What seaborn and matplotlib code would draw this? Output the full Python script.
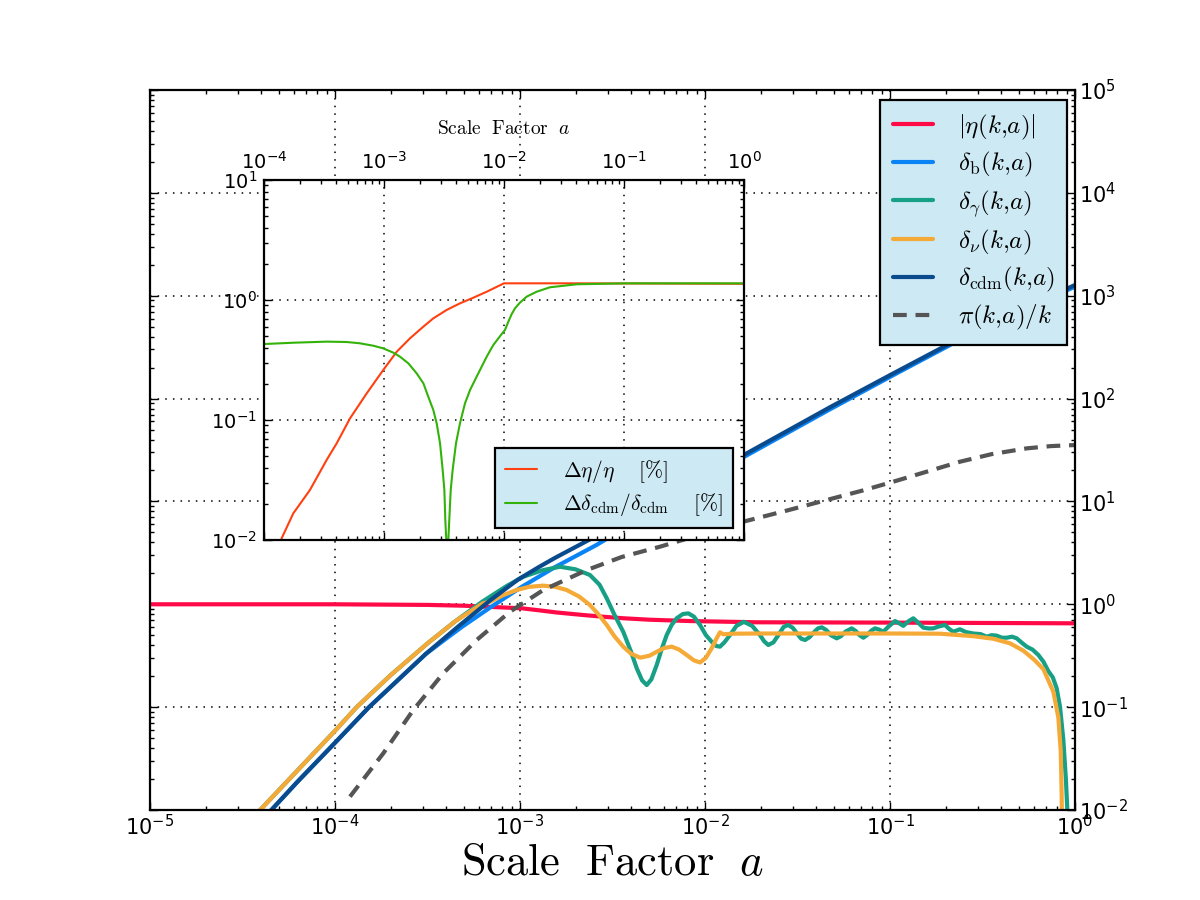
import numpy as np
import matplotlib
matplotlib.use("Agg")
import matplotlib.pyplot as plt
import seaborn as sns

# ---------------- data (log10 of scale factor a, log10 of value) ----------------
eta_loga = [-5.0, -4.0, -3.5, -3.3, -3.19, -2.99, -2.90, -2.80, -2.66, -2.55, -2.44, -2.30, -2.08, -1.72, -1.02, 0.0]
eta_logv = [0.0, 0.0, -0.006, -0.014, -0.023, -0.039, -0.058, -0.080, -0.104, -0.121, -0.136, -0.150, -0.163, -0.175, -0.178, -0.185]

cdm_loga = [-4.40, -4.344, -4.2, -4.005, -3.816, -3.65, -3.508, -3.33, -3.16, -3.011, -2.9, -2.812, -2.623,
            -2.315, -2.05, -1.792, -1.32, -0.982, -0.524, 0.0]
cdm_logv = [-2.12, -2.0, -1.72, -1.356, -1.0, -0.72, -0.48, -0.21, 0.04, 0.24, 0.36, 0.45, 0.63,
            0.93, 1.19, 1.45, 1.92, 2.245, 2.68, 3.104]

b_loga = [-4.40, -4.344, -4.2, -4.005, -3.816, -3.65, -3.508, -3.4, -3.31, -3.16, -2.99, -2.812, -2.587, -2.315,
          -2.05, -1.792, -1.32, -0.982, -0.524, 0.0]
b_logv = [-2.12, -2.0, -1.72, -1.356, -1.0, -0.72, -0.482, -0.335, -0.215, -0.03, 0.17, 0.36, 0.576, 0.87,
          1.16, 1.43, 1.90, 2.228, 2.665, 3.088]

gam_loga = [-4.46, -4.405, -4.2, -4.0, -3.883, -3.7, -3.5, -3.35, -3.2, -3.162, -3.07, -2.982, -2.88, -2.784,
            -2.70, -2.622, -2.57, -2.531, -2.49, -2.442, -2.40, -2.369, -2.34, -2.315, -2.29, -2.261,
            -2.235, -2.207, -2.18, -2.153, -2.12, -2.090, -2.06, -2.027, -1.995, -1.964, -1.94, -1.919,
            -1.895, -1.865, -1.83, -1.79, -1.745, -1.703, -1.68, -1.658, -1.63, -1.60, -1.575, -1.550,
            -1.525, -1.50, -1.48, -1.459, -1.435, -1.41, -1.39, -1.369, -1.345, -1.32, -1.288, -1.265,
            -1.24, -1.207, -1.185, -1.165, -1.144, -1.125, -1.10, -1.081, -1.06, -1.036, -1.01, -0.973,
            -0.95, -0.928, -0.90, -0.874, -0.85, -0.820, -0.79, -0.766, -0.735, -0.703, -0.68, -0.658,
            -0.622, -0.59, -0.550, -0.51, -0.477, -0.45, -0.423, -0.395, -0.369, -0.34, -0.315, -0.29,
            -0.261, -0.23, -0.198, -0.17, -0.144, -0.12, -0.099, -0.081, -0.063, -0.049, -0.042, -0.038]
gam_logv = [-2.11, -2.0, -1.61, -1.23, -1.0, -0.69, -0.38, -0.165, 0.03, 0.074, 0.18, 0.268, 0.33, 0.365,
            0.34, 0.285, 0.19, 0.058, -0.10, -0.267, -0.46, -0.622, -0.74, -0.785, -0.73, -0.590,
            -0.44, -0.299, -0.20, -0.136, -0.095, -0.088, -0.12, -0.201, -0.30, -0.364, -0.405, -0.412,
            -0.37, -0.299, -0.21, -0.17, -0.21, -0.299, -0.36, -0.396, -0.37, -0.29, -0.22, -0.201,
            -0.23, -0.29, -0.335, -0.347, -0.32, -0.27, -0.235, -0.224, -0.25, -0.30, -0.331, -0.31,
            -0.265, -0.234, -0.26, -0.30, -0.325, -0.30, -0.255, -0.234, -0.245, -0.267, -0.22, -0.163,
            -0.185, -0.21, -0.165, -0.136, -0.175, -0.227, -0.235, -0.234, -0.215, -0.201, -0.24, -0.267,
            -0.243, -0.27, -0.284, -0.29, -0.315, -0.30, -0.305, -0.325, -0.325, -0.315, -0.331, -0.37,
            -0.412, -0.44, -0.493, -0.56, -0.65, -0.71, -0.817, -0.996, -1.319, -1.708, -1.98, -2.4]

nu_loga = [-4.46, -4.405, -4.2, -4.0, -3.883, -3.7, -3.5, -3.35, -3.2, -3.162, -3.09, -3.018, -2.95, -2.874,
           -2.81, -2.748, -2.68, -2.622, -2.575, -2.531, -2.49, -2.442, -2.40, -2.351, -2.30, -2.261,
           -2.22, -2.180, -2.14, -2.099, -2.06, -2.027, -1.995, -1.964, -1.94, -1.919, -1.901, -1.85,
           -1.703, -1.0, -0.73, -0.55, -0.442, -0.351, -0.28, -0.22, -0.171, -0.117, -0.090, -0.077,
           -0.072, -0.069]
nu_logv = [-2.11, -2.0, -1.61, -1.23, -1.0, -0.69, -0.38, -0.165, 0.01, 0.025, 0.09, 0.139, 0.17, 0.181,
           0.17, 0.139, 0.075, -0.007, -0.10, -0.201, -0.31, -0.412, -0.48, -0.519, -0.50, -0.462,
           -0.425, -0.412, -0.44, -0.493, -0.545, -0.566, -0.52, -0.428, -0.34, -0.272, -0.292, -0.286,
           -0.284, -0.284, -0.286, -0.31, -0.335, -0.38, -0.45, -0.54, -0.63, -0.85, -1.10, -1.43,
           -1.85, -2.4]

pi_loga = [-3.919, -3.739, -3.577, -3.415, -3.234, -3.054, -2.874, -2.639, -2.45, -2.243, -2.0, -1.793,
           -1.55, -1.342, -1.15, -0.982, -0.8, -0.622, -0.45, -0.261, -0.13, 0.0]
pi_logv = [-1.870, -1.449, -1.028, -0.671, -0.347, -0.072, 0.139, 0.333, 0.46, 0.560, 0.69, 0.803,
           0.915, 1.014, 1.105, 1.192, 1.29, 1.386, 1.46, 1.516, 1.538, 1.548]

# inset: relative differences in percent
deta_loga = [-3.87, -3.853, -3.756, -3.617, -3.478, -3.394, -3.283, -3.144, -3.006, -2.894, -2.783, -2.672,
             -2.589, -2.478, -2.367, -2.256, -2.144, -2.0, -1.4, 0.0]
deta_logv = [-2.05, -1.986, -1.778, -1.583, -1.333, -1.194, -0.986, -0.778, -0.583, -0.431, -0.319, -0.222,
             -0.153, -0.083, -0.028, 0.019, 0.069, 0.139, 0.139, 0.135]

dcdm_loga = [-4.0, -3.756, -3.478, -3.311, -3.2, -3.089, -3.006, -2.922, -2.867, -2.797, -2.728, -2.672,
             -2.631, -2.589, -2.561, -2.533, -2.511, -2.497, -2.489, -2.481, -2.472, -2.464, -2.456,
             -2.444, -2.428, -2.4, -2.367, -2.325, -2.283, -2.228, -2.144, -2.089, -2.019, -1.992,
             -1.964, -1.936, -1.908, -1.867, -1.811, -1.728, -1.617, -1.394, -0.978, 0.0]
dcdm_logv = [-0.367, -0.356, -0.347, -0.35, -0.361, -0.381, -0.403, -0.439, -0.472, -0.528, -0.611, -0.694,
             -0.806, -0.917, -1.028, -1.194, -1.417, -1.583, -1.833, -2.0, -3.0, -2.0, -1.833,
             -1.583, -1.417, -1.194, -1.028, -0.861, -0.75, -0.639, -0.472, -0.375, -0.283, -0.25,
             -0.181, -0.117, -0.069, -0.022, 0.028, 0.069, 0.106, 0.131, 0.139, 0.139]

main_labels = [r'$|\eta(k{,}a)|$', r'$\delta_{\rm b}(k{,}a)$', r'$\delta_\gamma(k{,}a)$',
               r'$\delta_\nu(k{,}a)$', r'$\delta_{\rm cdm}(k{,}a)$', r'$\pi(k{,}a)/k$']
inset_labels = [r'$\Delta\eta/\eta\ \ \ \ [\%]$', r'$\Delta\delta_{\rm cdm}/\delta_{\rm cdm}\ \ \ \ [\%]$']
xlabel_text = r'$\mathrm{Scale\ \ Factor}\ \ a$'

# ---------------- style ----------------
sns.set_style("white")
plt.rcParams['font.family'] = ['DejaVu Sans']
plt.rcParams['mathtext.fontset'] = 'cm'
plt.rcParams['axes.unicode_minus'] = False
for key in ['text.color', 'axes.labelcolor', 'xtick.color', 'ytick.color', 'axes.edgecolor']:
    plt.rcParams[key] = 'black'

colors = {'eta': '#ff0a47', 'b': '#0a84f5', 'gam': '#17a085', 'nu': '#f5aa38',
          'cdm': '#0a4b8e', 'pi': '#555555', 'deta': '#ff4010', 'dcdm': '#33b30a'}
legend_face = '#cde9f4'

fig = plt.figure(figsize=(12, 9), dpi=100)
ax = fig.add_axes([0.125, 0.1, 0.77083, 0.8])
axin = fig.add_axes([0.22, 0.4, 0.4, 0.4])

for a in (ax, axin):
    a.set_xscale('log')
    a.set_yscale('log')
    a.set_facecolor('white')
    for s in a.spines.values():
        s.set_visible(True)
        s.set_linewidth(1.6)
        s.set_color('black')


def draw(axis, la, lv, color, lw, label, dashes=None):
    sns.lineplot(x=10 ** np.array(la), y=10 ** np.array(lv), ax=axis, color=color,
                 linewidth=lw, label=label, estimator=None, sort=False)
    ln = axis.lines[-1]
    ln.set_solid_joinstyle('round')
    if dashes is not None:
        ln.set_dashes(dashes)
    return ln


lines = []
lines.append(draw(ax, eta_loga, eta_logv, colors['eta'], 3, main_labels[0]))
lines.append(draw(ax, b_loga, b_logv, colors['b'], 3, main_labels[1]))
lines.append(draw(ax, gam_loga, gam_logv, colors['gam'], 3, main_labels[2]))
lines.append(draw(ax, nu_loga, nu_logv, colors['nu'], 3, main_labels[3]))
lines.append(draw(ax, cdm_loga, cdm_logv, colors['cdm'], 3, main_labels[4]))
lines.append(draw(ax, pi_loga, pi_logv, colors['pi'], 3, main_labels[5], dashes=[3.3, 2.1]))

ax.set_xlim(1e-5, 1)
ax.set_ylim(1e-2, 1e5)
ax.set_ylabel('')
ax.grid(True, which='major', linestyle=(0, (1, 4)), color='black', linewidth=1.1)
ax.tick_params(which='both', direction='in', top=True, bottom=True, left=True, right=True,
               labelleft=False, labelright=True, labelbottom=True, labeltop=False, width=1)
ax.tick_params(which='major', length=6, labelsize=15, pad=3)
ax.tick_params(which='minor', length=3)
ax.set_xlabel(xlabel_text, fontsize=32, labelpad=1)
ax.xaxis.offsetText.set_visible(False)
ax.yaxis.offsetText.set_visible(False)

leg = ax.legend(lines, main_labels, loc='upper right', bbox_to_anchor=(1067 / 1200, 1 - 100 / 900),
                bbox_transform=fig.transFigure, borderaxespad=0, fontsize=18, labelspacing=0.35,
                handlelength=1.6, handletextpad=1.0, borderpad=0.5, fancybox=False,
                framealpha=1, facecolor=legend_face, edgecolor='black')
leg.get_frame().set_linewidth(1.6)

# inset
il = []
il.append(draw(axin, deta_loga, deta_logv, colors['deta'], 1.5, inset_labels[0]))
il.append(draw(axin, dcdm_loga, dcdm_logv, colors['dcdm'], 1.5, inset_labels[1]))
axin.set_xlim(1e-4, 1)
axin.set_ylim(1e-2, 1e1)
axin.set_ylabel('')
axin.grid(True, which='major', linestyle=(0, (1, 4)), color='black', linewidth=1.1)
axin.tick_params(which='both', direction='in', top=True, bottom=True, left=True, right=True,
                 labelbottom=False, labeltop=True, labelleft=True, labelright=False, width=1)
axin.tick_params(which='major', length=6, labelsize=14, pad=5)
axin.tick_params(which='minor', length=3)
axin.xaxis.set_label_position('top')
axin.set_xlabel(xlabel_text, fontsize=14, labelpad=12)
axin.xaxis.offsetText.set_visible(False)
axin.yaxis.offsetText.set_visible(False)
ileg = axin.legend(il, inset_labels, loc='lower right', bbox_to_anchor=(733 / 1200, 1 - 528 / 900),
                   bbox_transform=fig.transFigure, borderaxespad=0, fontsize=15.5, labelspacing=0.3,
                   handlelength=1.5, handletextpad=1.2, borderpad=0.45, fancybox=False,
                   framealpha=1, facecolor=legend_face, edgecolor='black')
ileg.get_frame().set_linewidth(1.6)

fig.savefig('out.png', dpi=100, facecolor='white')
